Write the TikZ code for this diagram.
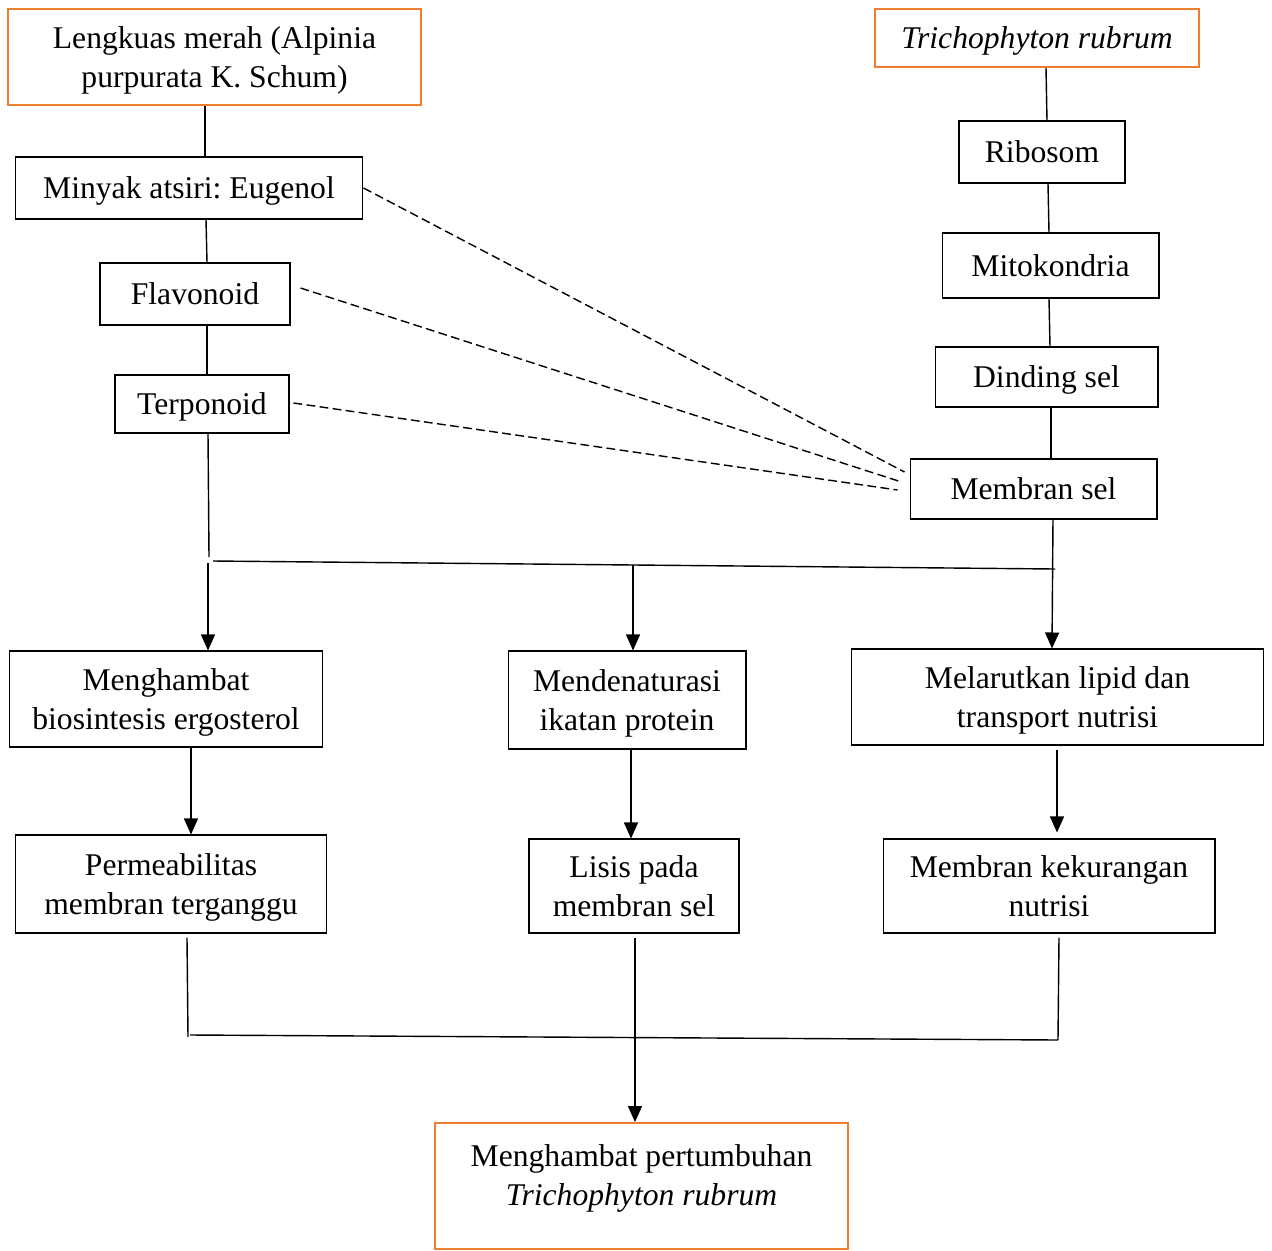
\documentclass[tikz,border=0pt]{standalone}
\usepackage{fontspec}
\setmainfont{Liberation Serif}
\usetikzlibrary{arrows.meta,calc}
\definecolor{borange}{RGB}{237,125,49}
\frenchspacing
\begin{document}
\begin{tikzpicture}[x=0.02cm,y=-0.02cm,
 box/.style={draw=black, line width=0.6pt, align=center, inner sep=0pt, text depth=0pt, font=\fontsize{18}{22}\selectfont},
 obox/.style={box, draw=borange, line width=1.1pt},
 txt/.style={align=center, inner sep=0pt, text depth=0pt, font=\fontsize{18}{22}\selectfont},
 ln/.style={line width=0.8pt},
 arr/.style={ln, -{Triangle[length=0.32cm,width=0.28cm]}},
 dsh/.style={ln, dash pattern=on 5pt off 2.5pt}]
\useasboundingbox (0,0) rectangle (1272,1251);

% left column
\node[obox, minimum width=8.26cm, minimum height=1.92cm] (lengkuas) at (214.5,57) {Lengkuas merah (Alpinia\\purpurata K. Schum)};
\node[box, minimum width=6.96cm, minimum height=1.24cm] (minyak) at (189,188) {Minyak atsiri: Eugenol};
\node[box, minimum width=3.8cm, minimum height=1.24cm] (flav) at (195,294) {Flavonoid};
\node[box, minimum width=3.48cm, minimum height=1.16cm] (terp) at (202,404) {Terponoid};

% right column
\node[obox, minimum width=6.48cm, minimum height=1.16cm] (trich) at (1037,38) {\textit{Trichophyton rubrum}};
\node[box, minimum width=3.32cm, minimum height=1.24cm] (ribosom) at (1042,152) {Ribosom};
\node[box, minimum width=4.34cm, minimum height=1.3cm] (mito) at (1050.5,265.5) {Mitokondria};
\node[box, minimum width=4.46cm, minimum height=1.2cm] (dinding) at (1046.5,377) {Dinding sel};
\node[box, minimum width=4.94cm, minimum height=1.2cm] (membran) at (1033.5,489) {Membran sel};

% effects
\node[box, minimum width=6.28cm, minimum height=1.92cm] (ergo) at (166,699) {Menghambat\\biosintesis ergosterol};
\node[box, minimum width=4.76cm, minimum height=1.96cm] (denat) at (627,700) {Mendenaturasi\\ikatan protein};
\node[box, minimum width=8.26cm, minimum height=1.92cm] (lipid) at (1057.5,697) {Melarutkan lipid dan\\transport nutrisi};

\node[box, minimum width=6.24cm, minimum height=1.96cm] (perm) at (171,884) {Permeabilitas\\membran terganggu};
\node[box, minimum width=4.2cm, minimum height=1.88cm] (lisis) at (634,886) {Lisis pada\\membran sel};
\node[box, minimum width=6.64cm, minimum height=1.88cm] (kurang) at (1049,886) {Membran kekurangan\\nutrisi};

\node[obox, minimum width=8.26cm, minimum height=2.52cm] (final) at (641.5,1186) {};
\node[txt] (finaltxt) at (641.5,1175) {Menghambat pertumbuhan\\\textit{Trichophyton rubrum}};

% left chain
\draw[ln] ($(lengkuas.south)+(-9.5,0)$) -- ($(minyak.north)+(16,0)$);
\draw[ln] ($(minyak.south)+(17,0)$) -- ($(flav.north)+(12,0)$);
\draw[ln] ($(flav.south)+(12,0)$) -- ($(terp.north)+(5,0)$);
\coordinate (tend) at (209,557);
\coordinate (astart) at (208,563);
\draw[ln] ($(terp.south)+(6,0)$) -- (tend);
\draw[arr] (astart) -- (ergo.north -| astart);

% right chain
\draw[ln] ($(trich.south)+(9,0)$) -- ($(ribosom.north)+(5,0)$);
\draw[ln] ($(ribosom.south)+(6,0)$) -- ($(mito.north)+(-1.5,0)$);
\draw[ln] ($(mito.south)+(-1.5,0)$) -- ($(dinding.north)+(3.5,0)$);
\draw[ln] ($(dinding.south)+(4.5,0)$) -- ($(membran.north)+(17.5,0)$);
\coordinate (rstart) at (1053,519);
\coordinate (jR) at (1055,569);
\draw[arr] (rstart) -- (lipid.north -| 1052,0);

% horizontal junction
\coordinate (hL) at (213,561);
\coordinate (jM) at (633,565);
\draw[ln] (hL) -- (jR);
\draw[arr] (jM) -- (denat.north -| jM);

% dashed links
\draw[dsh] (minyak.east) -- ($(membran.west)+(-5,-17)$);
\draw[dsh] ($(flav.east)+(10,-6)$) -- ($(membran.west)+(-8,-7)$);
\draw[dsh] ($(terp.east)+(4,-1)$) -- ($(membran.west)+(-12,1)$);

% effects to consequences
\draw[arr] (ergo.south -| 191,0) -- (perm.north -| 191,0);
\draw[arr] (denat.south -| 631,0) -- (lisis.north -| 631,0);
\draw[arr] ($(lipid.south)+(-0.5,4)$) -- ($(kurang.north)+(8,-6)$);

% bottom junction
\coordinate (bL) at (188,1037);
\coordinate (bR) at (1058,1040);
\draw[ln] ($(perm.south)+(16,4)$) -- (bL);
\draw[ln] ($(kurang.south)+(10,4)$) -- (bR);
\draw[ln] (190,1035) -- (bR);
\draw[arr] ($(lisis.south)+(1,4)$) -- (final.north -| 635,0);
\end{tikzpicture}
\end{document}
